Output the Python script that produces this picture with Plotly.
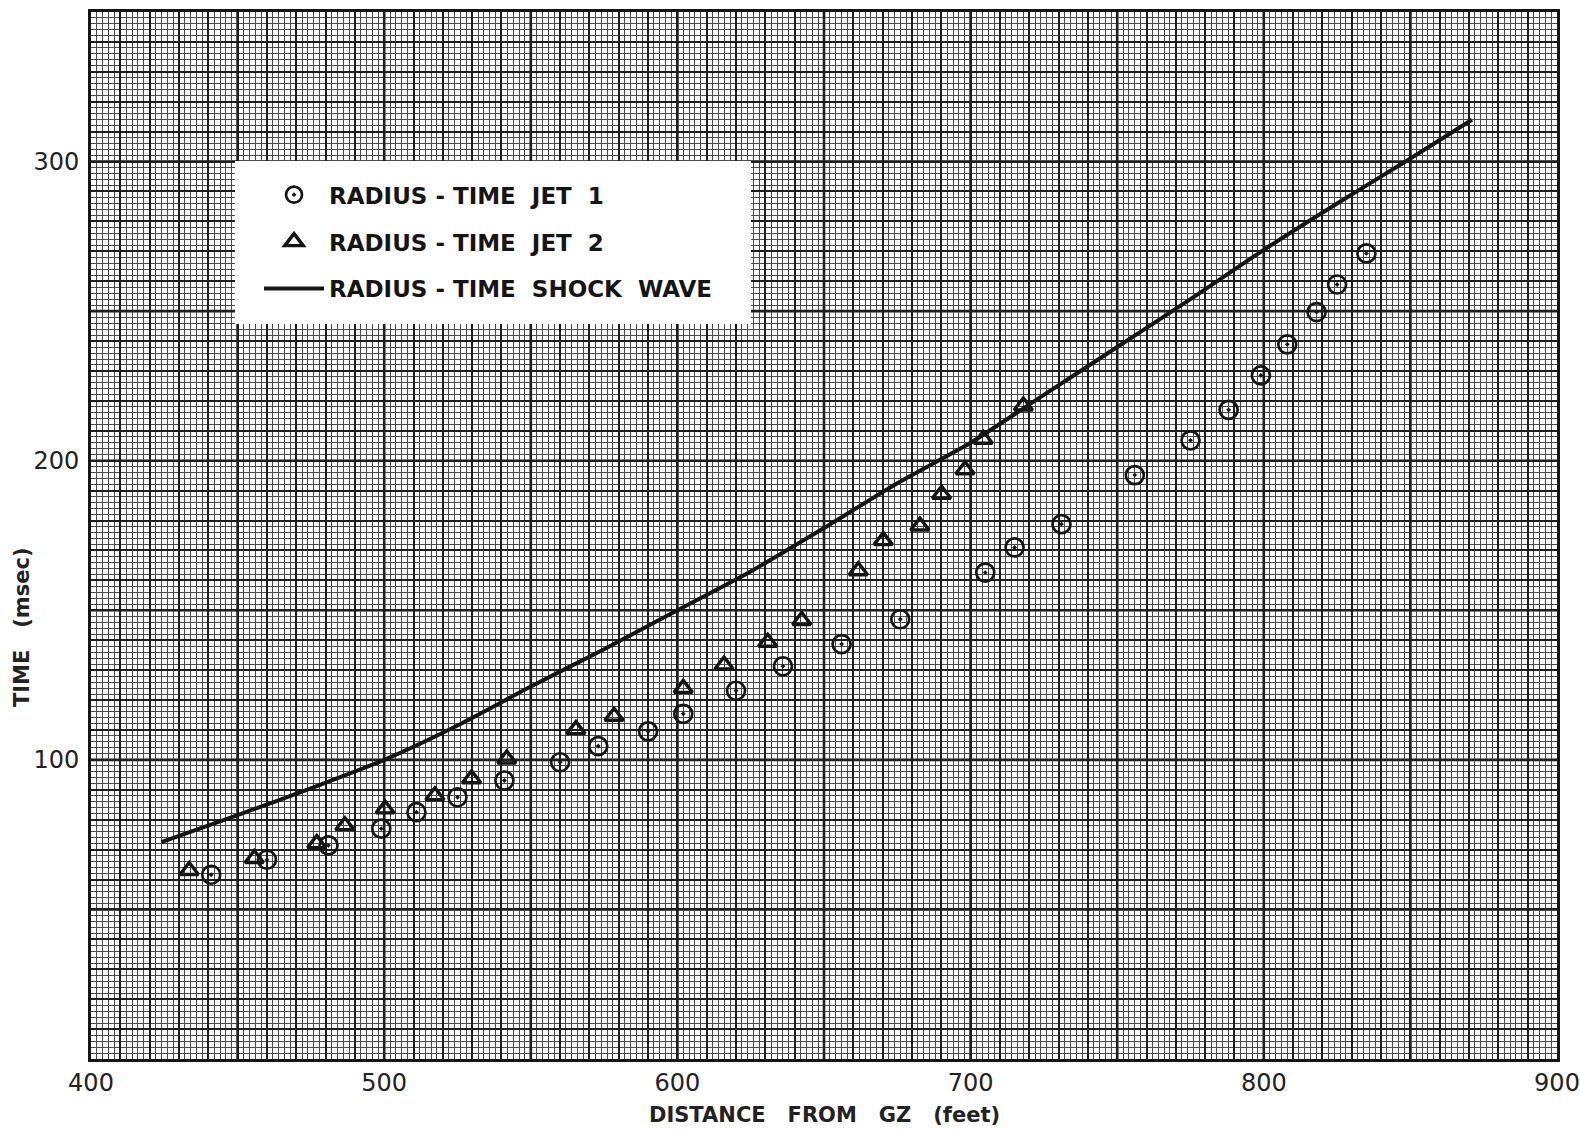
import plotly.graph_objects as go

# ---- data ----
jet1_x = [441, 460, 481, 499, 511, 525, 541, 560, 573, 590, 602, 620, 636, 656, 676,
          705, 715, 731, 756, 775, 788, 799, 808, 818, 825, 835]
jet1_y = [61.6, 66.6, 71.4, 77.0, 82.5, 87.5, 93.1, 99.2, 104.6, 109.5, 115.4, 123.1, 131.3,
          138.7, 147.0, 162.6, 171.0, 178.8, 195.2, 206.8, 217.0, 228.5, 238.9, 249.7, 258.9, 269.3]

jet2_x = [433.5, 455.7, 477, 486.6, 500.3, 517.3, 529.8, 541.8, 565.4, 578.4, 602, 615.9,
          630.8, 642.4, 661.7, 670.2, 682.7, 690.1, 698.1, 704.3, 718]
jet2_y = [63.0, 67.0, 72.0, 78.0, 83.6, 88.0, 93.7, 100.3, 110.1, 114.6, 123.9, 131.7,
          139.3, 146.6, 163.2, 173.3, 178.2, 188.8, 197.0, 207.2, 218.3]

shock_x = [424, 450, 475, 500, 525, 550, 575, 600, 625, 650, 675, 700, 725, 750, 775,
           800, 825, 850, 871]
shock_y = [72.5, 81.5, 90.5, 100, 111.5, 124.5, 137, 150, 163, 177.5, 192.5, 206, 222,
           238, 254, 270.5, 286, 301, 314]

series_names = ["RADIUS - TIME  JET  1", "RADIUS - TIME  JET  2", "RADIUS - TIME  SHOCK  WAVE"]
x_tick_labels = [400, 500, 600, 700, 800, 900]
y_tick_labels = [100, 200, 300]
x_title = "DISTANCE   FROM   GZ   (feet)"
y_title = "TIME   (msec)"

X_RANGE = [400, 900]
Y_RANGE = [0, 350]

INK = "#151515"

fig = go.Figure()
fig.add_trace(go.Scatter(
    x=jet1_x, y=jet1_y, mode="markers", name=series_names[0], legendgroup="a",
    marker=dict(symbol="circle-open-dot", size=18, color=INK, line=dict(width=2.7, color=INK)),
))
fig.add_trace(go.Scatter(
    x=jet2_x, y=jet2_y, mode="markers", name=series_names[1], legendgroup="b",
    marker=dict(symbol="triangle-up-open", size=16, color=INK, line=dict(width=3.4, color=INK)),
))
fig.add_trace(go.Scatter(
    x=shock_x, y=shock_y, mode="lines", name=series_names[2], legendgroup="c",
    line=dict(color=INK, width=4, shape="spline", smoothing=0.6),
))

# graph-paper grid: fine (2), medium (10), heavy (50)
xt_vals = list(range(X_RANGE[0], X_RANGE[1] + 1, 10))
xt_text = [str(v) if v in x_tick_labels else "" for v in xt_vals]
yt_vals = list(range(Y_RANGE[0], Y_RANGE[1] + 1, 10))
yt_text = [str(v) if v in y_tick_labels else "" for v in yt_vals]

axis_common = dict(
    showgrid=True, gridcolor="#1e1e1e", gridwidth=1.6,
    minor=dict(dtick=2, showgrid=True, gridcolor="#4a4a4a", gridwidth=1),
    showline=True, linecolor=INK, linewidth=3, mirror=True,
    zeroline=False, ticks="", automargin=False,
    tickfont=dict(family="DejaVu Sans", size=24, color="#222"),
)

fig.update_xaxes(range=X_RANGE, tickmode="array", tickvals=xt_vals, ticktext=xt_text,
                 ticklabelstandoff=0, **axis_common)
fig.update_yaxes(range=Y_RANGE, tickmode="array", tickvals=yt_vals, ticktext=yt_text,
                 ticklabelstandoff=4, **axis_common)

shapes = []
for v in range(X_RANGE[0] + 50, X_RANGE[1], 50):
    shapes.append(dict(type="line", xref="x", yref="paper", x0=v, x1=v, y0=0, y1=1,
                       line=dict(color="#111", width=2.6), layer="below"))
for v in range(Y_RANGE[0] + 50, Y_RANGE[1], 50):
    shapes.append(dict(type="line", xref="paper", yref="y", x0=0, x1=1, y0=v, y1=v,
                       line=dict(color="#111", width=2.6), layer="below"))
# white legend panel
shapes.append(dict(type="rect", xref="paper", yref="paper",
                   x0=0.0982, x1=0.4502, y0=0.702, y1=0.8577,
                   fillcolor="white", line=dict(width=0), layer="above"))

fig.update_layout(
    template="none",
    width=1580, height=1131,
    margin=dict(l=91, r=23, t=12, b=72, autoexpand=False),
    paper_bgcolor="white", plot_bgcolor="white",
    shapes=shapes,
    showlegend=True,
    legend=dict(
        x=0.1146, y=0.846, xanchor="left", yanchor="top",
        bgcolor="rgba(0,0,0,0)", borderwidth=0,
        font=dict(family="DejaVu Sans", size=23, color=INK, weight="bold"),
        itemwidth=60, tracegroupgap=14,
    ),
    annotations=[
        dict(text=x_title, xref="paper", yref="paper", x=0.5, y=-0.0535,
             xanchor="center", yanchor="middle", showarrow=False,
             font=dict(family="DejaVu Sans", size=21, color="#222", weight="bold")),
        dict(text=y_title, xref="paper", yref="paper", x=-0.047, y=0.4126,
             xanchor="center", yanchor="middle", showarrow=False, textangle=-90,
             font=dict(family="DejaVu Sans", size=21, color="#222", weight="bold")),
    ],
)

fig.write_html(
    "out.html",
    config={"displayModeBar": False},
    post_script="document.body.style.margin='0';document.body.style.padding='0';"
                "document.body.style.overflow='hidden';",
)
